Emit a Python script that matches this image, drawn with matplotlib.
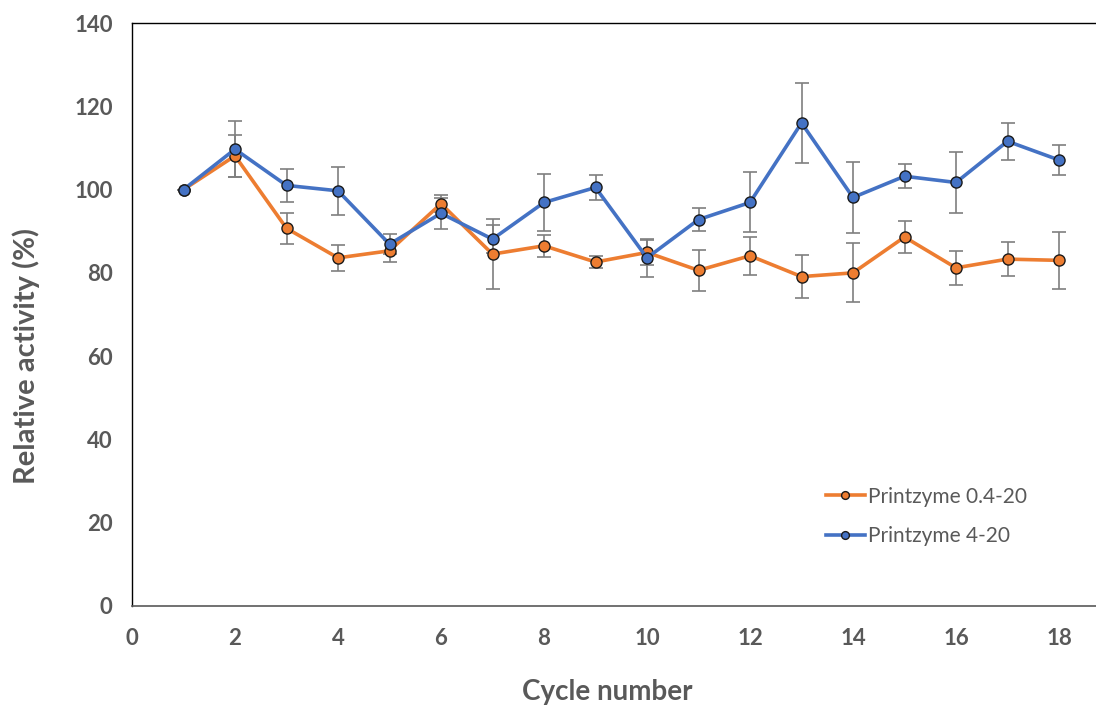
import numpy as np
import matplotlib
matplotlib.use("Agg")
import matplotlib.pyplot as plt

# donnees
cycles = np.arange(1, 19)
act_04 = [100, 108.1, 90.7, 83.6, 85.3, 96.6, 84.5, 86.5, 82.6, 84.9,
          80.6, 84.1, 79.1, 80.0, 88.6, 81.2, 83.3, 83.0]
err_04 = [0, 5.0, 3.7, 3.2, 2.7, 2.0, 8.4, 2.6, 1.5, 3.0,
          5.0, 4.5, 5.1, 7.1, 3.8, 4.1, 4.0, 6.8]
act_4 = [100, 109.7, 101.0, 99.7, 86.9, 94.3, 88.1, 96.9, 100.5, 83.6,
         92.8, 96.9, 116.0, 98.1, 103.2, 101.7, 111.6, 107.1]
err_4 = [0, 6.7, 4.0, 5.7, 2.4, 3.7, 3.4, 6.8, 3.0, 4.5,
         2.8, 7.2, 9.5, 8.6, 2.9, 7.4, 4.4, 3.7]
labels = ["Printzyme 0.4-20", "Printzyme 4-20"]

orange = "#ED7D31"
bleu = "#4472C4"
gris = "#595959"

fig = plt.figure(figsize=(10.96, 7.06), dpi=100)
# l'axe depasse a droite (image recadree)
ax = fig.add_axes([132/1096, 1-606/706, (20*51.5)/1096, (606-23)/706])

for y, e in [(act_04, err_04), (act_4, err_4)]:
    ax.errorbar(cycles, y, yerr=e, fmt="none", ecolor="#7F7F7F", elinewidth=1.2,
                capsize=5, capthick=1.2, zorder=2)
for y, c, lab in [(act_04, orange, labels[0]), (act_4, bleu, labels[1])]:
    ax.plot(cycles, y, color=c, lw=2.6, marker="o", ms=8, mfc=c, mec="#1a1a1a",
            mew=1.0, label=lab, zorder=3)

ax.set_xlim(0, 20)
ax.set_ylim(0, 140)
ax.set_xticks(np.arange(0, 19, 2))
ax.set_yticks(np.arange(0, 141, 20))
ax.tick_params(axis="y", length=0, pad=14)
ax.tick_params(axis="x", length=0, pad=16)
for t in ax.get_yticklabels() + ax.get_xticklabels():
    t.set_fontfamily("Lato")
    t.set_fontweight("bold")
    t.set_fontsize(16)
    t.set_color(gris)

for s in ["top", "left", "right"]:
    ax.spines[s].set_color("black")
    ax.spines[s].set_linewidth(1.0)
ax.spines["bottom"].set_color(gris)
ax.spines["bottom"].set_linewidth(1.2)

fig.text(26/1096, 1-356/706, "Relative activity (%)", rotation=90, ha="center", va="center",
         fontsize=21, fontweight="bold", color=gris, family="Lato")
fig.text(607/1096, 1-692/706, "Cycle number", ha="center", va="center",
         fontsize=20, fontweight="bold", color=gris, family="Lato")

leg = fig.legend(loc="upper left", bbox_to_anchor=(807/1096, 1-468/706), frameon=False,
                 prop={"family": "Lato", "size": 15}, handlelength=1.87, labelspacing=0.92,
                 handletextpad=0.15, markerscale=0.7)
for t in leg.get_texts():
    t.set_color(gris)

fig.savefig("out.png", dpi=100)
